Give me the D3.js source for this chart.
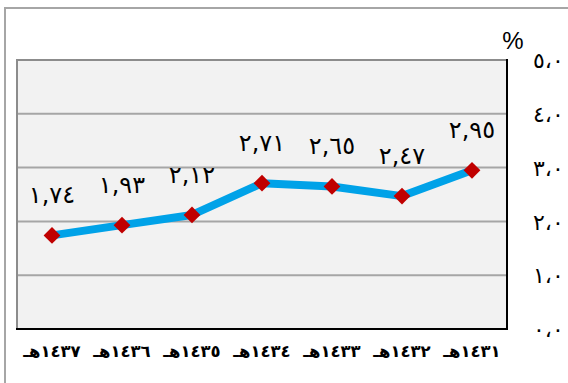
<!DOCTYPE html>
<html>
<head>
<meta charset="utf-8">
<script src="https://cdn.jsdelivr.net/npm/d3@7"></script>
<style>
  html, body { margin: 0; padding: 0; background: #fff; }
  svg { display: block; }
</style>
</head>
<body>
<svg id="chart" width="568" height="383"></svg>
<script>
// Hijri years, left to right as plotted
const categories = ["١٤٣٧هـ", "١٤٣٦هـ", "١٤٣٥هـ", "١٤٣٤هـ", "١٤٣٣هـ", "١٤٣٢هـ", "١٤٣١هـ"];
// Percentage values per year
const values = [1.74, 1.93, 2.12, 2.71, 2.65, 2.47, 2.95];
// Value axis ticks and their labels
const yTicks = [0, 1, 2, 3, 4, 5];
const yTickLabels = ["٠،٠", "١،٠", "٢،٠", "٣،٠", "٤،٠", "٥،٠"];
const unitLabel = "%";

const arabicDigits = "٠١٢٣٤٥٦٧٨٩";
const toArabic = s => s.replace(/[0-9]/g, d => arabicDigits[+d]);
const fmtValue = v => toArabic(v.toFixed(2)).replace(".", ",");

const svg = d3.select("#chart");

const plot = { left: 17, right: 507, top: 60, bottom: 329 };

const x = d3.scaleBand().domain(categories).range([plot.left, plot.right]);
const y = d3.scaleLinear().domain([0, 5]).range([plot.bottom, plot.top]);

// outer frame
svg.append("rect")
  .attr("x", 5).attr("y", 8).attr("width", 620).attr("height", 420)
  .attr("fill", "#fff").attr("stroke", "#a6a6a6").attr("stroke-width", 2);

// plot area background
svg.append("rect")
  .attr("x", plot.left).attr("y", plot.top)
  .attr("width", plot.right - plot.left).attr("height", plot.bottom - plot.top)
  .attr("fill", "#f2f2f2");

// horizontal gridlines
svg.append("g")
  .selectAll("line")
  .data(yTicks.filter(t => t > 0 && t < 5))
  .join("line")
  .attr("x1", plot.left).attr("x2", plot.right)
  .attr("y1", d => y(d)).attr("y2", d => y(d))
  .attr("stroke", "#a6a6a6").attr("stroke-width", 2);

// plot area border: gray top/left, black right/bottom axis lines
svg.append("path")
  .attr("d", `M${plot.left},${plot.bottom}V${plot.top}H${plot.right}`)
  .attr("fill", "none").attr("stroke", "#8c8c8c").attr("stroke-width", 2);
svg.append("path")
  .attr("d", `M${plot.left - 1},${plot.bottom}H${plot.right}V${plot.top - 1}`)
  .attr("fill", "none").attr("stroke", "#000").attr("stroke-width", 2);

// value axis labels on the right
const yAxis = d3.axisRight(y)
  .tickValues(yTicks)
  .tickFormat((d, i) => yTickLabels[i])
  .tickSize(0)
  .tickPadding(26);
const gy = svg.append("g").attr("transform", `translate(${plot.right},0)`).call(yAxis);
gy.select(".domain").remove();
gy.selectAll("text")
  .attr("font-family", "DejaVu Sans")
  .attr("font-size", 22)
  .attr("fill", "#000")
  .attr("dy", "0.35em");

// unit
svg.append("text")
  .attr("x", 513).attr("y", 49)
  .attr("text-anchor", "middle")
  .attr("font-family", "Liberation Sans, Arial, sans-serif")
  .attr("font-size", 24)
  .text(unitLabel);

// category axis labels
const xAxis = d3.axisBottom(x).tickSize(0).tickPadding(0);
const gx = svg.append("g").attr("transform", `translate(0,${plot.bottom})`).call(xAxis);
gx.select(".domain").remove();
gx.selectAll("text")
  .attr("font-family", "DejaVu Sans")
  .attr("font-weight", "bold")
  .attr("font-size", 16.5)
  .attr("fill", "#000")
  .attr("dy", 0)
  .attr("y", 28);

const cx = d => x(d) + x.bandwidth() / 2;
const points = categories.map((c, i) => ({ c, v: values[i] }));

// series line
svg.append("path")
  .datum(points)
  .attr("fill", "none")
  .attr("stroke", "#00a2e8")
  .attr("stroke-width", 8)
  .attr("stroke-linejoin", "round")
  .attr("d", d3.line().x(d => cx(d.c)).y(d => y(d.v)));

// diamond markers
svg.append("g")
  .selectAll("path")
  .data(points)
  .join("path")
  .attr("d", d3.symbol(d3.symbolDiamond2, 180)())
  .attr("transform", d => `translate(${cx(d.c)},${y(d.v)})`)
  .attr("fill", "#c00000");

// value labels
svg.append("g")
  .selectAll("text")
  .data(points)
  .join("text")
  .attr("x", d => cx(d.c))
  .attr("y", d => y(d.v) - 32)
  .attr("text-anchor", "middle")
  .attr("font-family", "DejaVu Sans")
  .attr("font-size", 24)
  .attr("letter-spacing", 1.5)
  .attr("fill", "#000")
  .text(d => fmtValue(d.v));
</script>
</body>
</html>
